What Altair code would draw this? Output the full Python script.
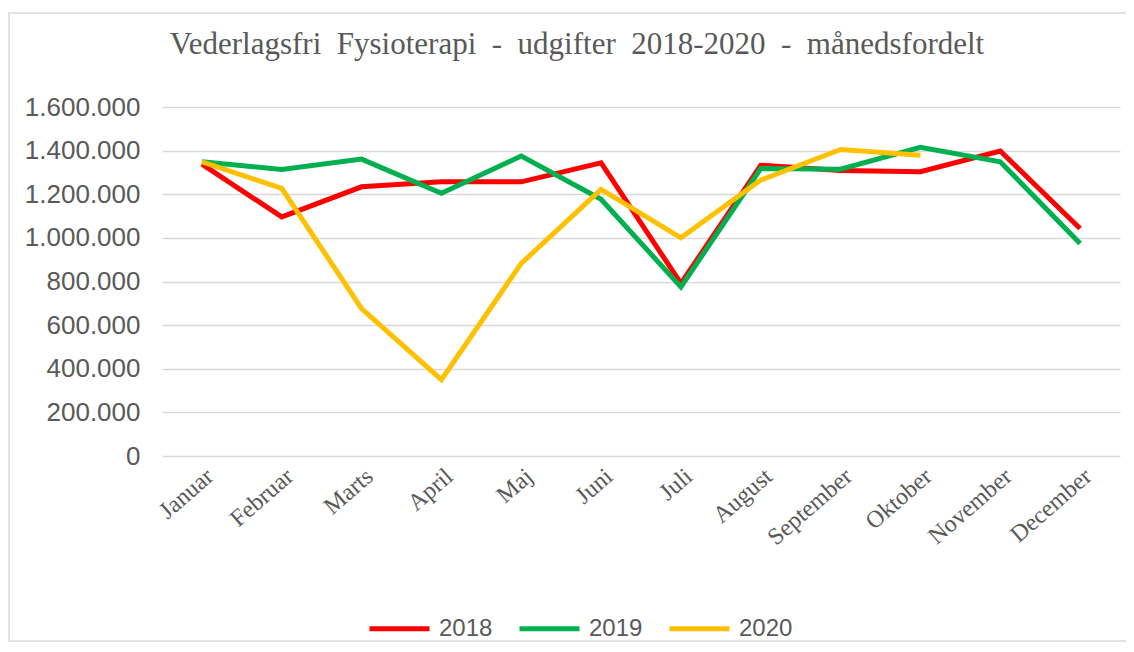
import altair as alt
import pandas as pd

months = ["Januar", "Februar", "Marts", "April", "Maj", "Juni", "Juli",
          "August", "September", "Oktober", "November", "December"]
v2018 = [1338000, 1096000, 1234000, 1257000, 1257000, 1344000, 791000,
         1333000, 1309000, 1303000, 1398000, 1043000]
v2019 = [1349000, 1314000, 1361000, 1204000, 1375000, 1177000, 775000,
         1318000, 1315000, 1415000, 1349000, 974000]
v2020 = [1349000, 1227000, 676000, 350000, 883000, 1222000, 1000000,
         1265000, 1405000, 1379000]
years = ["2018", "2019", "2020"]
colors = ["#FF0000", "#00B050", "#FFC000"]
y_ticks = [0, 200000, 400000, 600000, 800000, 1000000, 1200000, 1400000, 1600000]

rows = []
for yr, vals in zip(years, [v2018, v2019, v2020]):
    for m, v in zip(months, vals):
        rows.append({"Måned": m, "År": yr, "Udgifter": v})
df = pd.DataFrame(rows)

W, H = 958, 349
NB = "\u00a0"
title_text = f"Vederlagsfri{NB} Fysioterapi{NB} -{NB} udgifter{NB} 2018-2020{NB} -{NB} månedsfordelt"

lines = alt.Chart(df).mark_line(strokeWidth=5, strokeCap="butt").encode(
    x=alt.X("Måned:N", sort=months, scale=alt.Scale(type="point", padding=0.5),
            axis=alt.Axis(title=None, labelAngle=-41, labelFont="Liberation Serif",
                          labelFontSize=24, labelColor="#595959", ticks=False,
                          domain=False, grid=False, labelPadding=8)),
    y=alt.Y("Udgifter:Q", scale=alt.Scale(domain=[0, 1600000], nice=False),
            axis=alt.Axis(title=None, values=y_ticks,
                          labelExpr="replace(format(datum.value, ','), /,/g, '.')",
                          labelFont="Liberation Sans", labelFontSize=26,
                          labelColor="#595959", ticks=False, domain=False,
                          gridColor="#D9D9D9", gridWidth=1.5, labelPadding=22)),
    color=alt.Color("År:N", scale=alt.Scale(domain=years, range=colors),
                    legend=alt.Legend(title=None, orient="none", direction="horizontal",
                                      legendX=205, legendY=489, symbolType="stroke",
                                      symbolSize=3600, symbolStrokeWidth=5,
                                      labelFont="Liberation Sans", labelFontSize=24,
                                      labelColor="#595959", labelOffset=7,
                                      columnPadding=16, padding=0)),
)

border = alt.Chart(pd.DataFrame({"a": [0]})).mark_rect(
    fill="transparent", stroke="#D9D9D9", strokeWidth=1.5, clip=False
).encode(x=alt.value(-153), x2=alt.value(966), y=alt.value(-94), y2=alt.value(534))

chart = alt.layer(border, lines).properties(
    width=W, height=H,
    title=alt.TitleParams(title_text,
                          font="Liberation Serif", fontSize=31, fontWeight="normal",
                          color="#595959", anchor="middle", frame="group", dx=-64,
                          baseline="alphabetic", offset=-73),
    autosize=alt.AutoSizeParams(type="none"),
    padding={"left": 154, "top": 99, "right": 6, "bottom": 186},
).configure_view(stroke=None)

chart.save("out.html", embed_options={"renderer": "svg", "actions": False})
